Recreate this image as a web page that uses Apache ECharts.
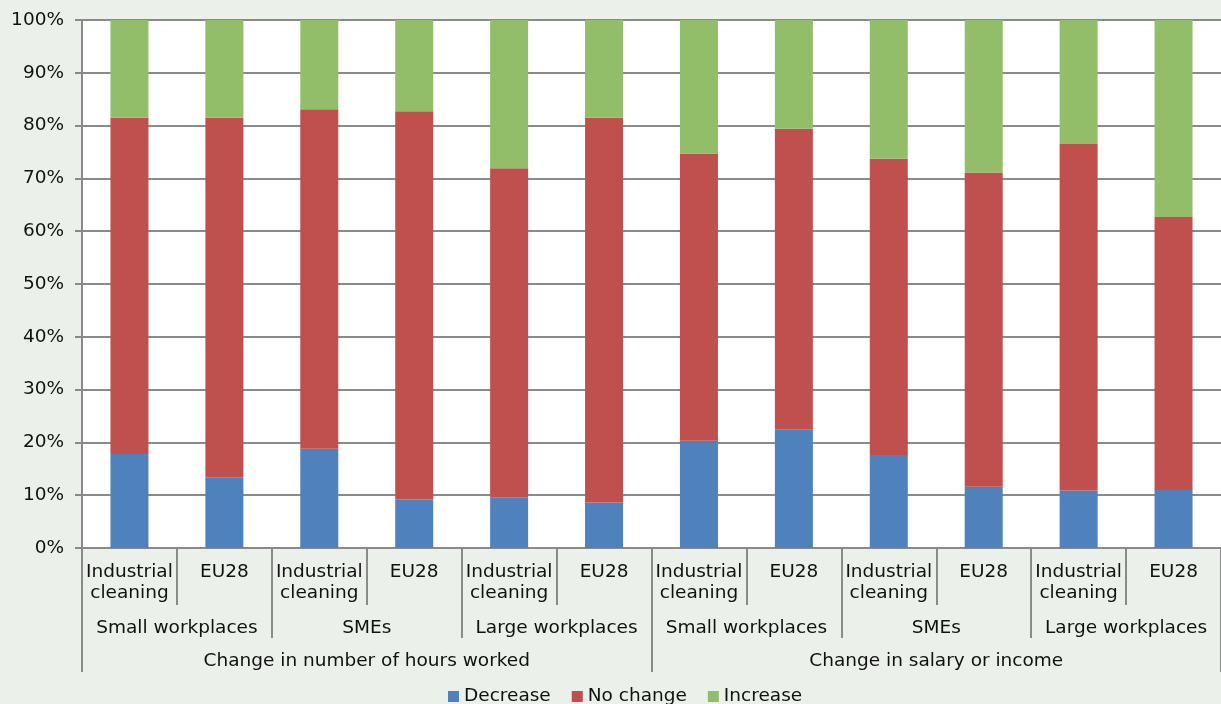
<!DOCTYPE html>
<html>
<head>
<meta charset="utf-8">
<script src="https://cdn.jsdelivr.net/npm/echarts@6/dist/echarts.min.js"></script>
<style>
html,body{margin:0;padding:0;background:#EBF1EA;}
#c{width:1221px;height:704px;}
</style>
</head>
<body>
<div id="c"></div>
<script>
const categories = ['Industrial\ncleaning','EU28','Industrial\ncleaning','EU28','Industrial\ncleaning','EU28',
                    'Industrial\ncleaning','EU28','Industrial\ncleaning','EU28','Industrial\ncleaning','EU28'];
const groups = ['Small workplaces','SMEs','Large workplaces','Small workplaces','SMEs','Large workplaces'];
const topics = ['Change in number of hours worked','Change in salary or income'];
const yTicks = [0,10,20,30,40,50,60,70,80,90,100];
const decrease = [17.8,13.4,18.8,9.2,9.6,8.6,20.3,22.5,17.6,11.6,10.9,11.0];
const noChange = [63.7,68.1,64.3,73.5,62.3,72.9,54.4,56.9,56.1,59.5,65.6,51.7];
const increase = [18.5,18.5,16.9,17.3,28.1,18.5,25.3,20.6,26.3,28.9,23.5,37.3];

const FONT = "Verdana, 'DejaVu Sans', sans-serif";
const FS = 18.5;
const GRAY = '#8a8a8a';

const chart = echarts.init(document.getElementById('c'), null, {renderer:'canvas'});
const lvlAxis = (data, tickLen, margin, showLine) => ({
  type:'category', data:data, position:'bottom', gridIndex:0,
  axisLine:{show:showLine, lineStyle:{color:GRAY, width:2}},
  axisTick:{show:true, interval:0, length:tickLen, lineStyle:{color:GRAY, width:2}},
  axisLabel:{interval:0, margin:margin, color:'#111', fontFamily:FONT, fontSize:FS, lineHeight:21},
  splitLine:{show:false}
});
chart.setOption({
  animation:false,
  backgroundColor:'#EBF1EA',
  textStyle:{fontFamily:FONT},
  grid:{left:82, width:1144, top:20, height:528, show:true, backgroundColor:'#ffffff', borderWidth:0},
  legend:{
    data:['Decrease','No change','Increase'],
    left:448, top:687, padding:0,
    icon:'rect', itemWidth:11, itemHeight:11, itemGap:21,
    textStyle:{fontFamily:FONT, fontSize:FS, color:'#111'}
  },
  xAxis:[
    lvlAxis(categories, 57, 14, true),
    lvlAxis(groups, 90, 70, false),
    lvlAxis(topics, 124, 103, false)
  ],
  yAxis:{
    type:'value', min:0, max:100, interval:10,
    axisLine:{show:true, lineStyle:{color:GRAY, width:2}},
    axisTick:{show:true, length:7, lineStyle:{color:GRAY, width:2}},
    axisLabel:{formatter:'{value}%', margin:18, color:'#111', fontFamily:FONT, fontSize:FS},
    splitLine:{show:true, lineStyle:{color:GRAY, width:2}}
  },
  series:[
    {name:'Decrease', type:'bar', stack:'t', barWidth:38, xAxisIndex:0, data:decrease, itemStyle:{color:'#4F81BD'}},
    {name:'No change', type:'bar', stack:'t', barWidth:38, xAxisIndex:0, data:noChange, itemStyle:{color:'#C0504D'}},
    {name:'Increase', type:'bar', stack:'t', barWidth:38, xAxisIndex:0, data:increase, itemStyle:{color:'#93BE69'}}
  ]
});
</script>
</body>
</html>
